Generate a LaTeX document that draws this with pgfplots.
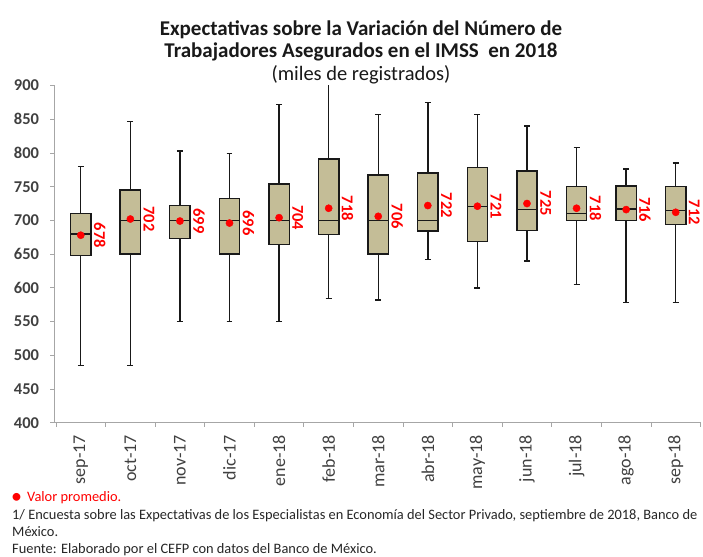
\documentclass[border=0pt]{standalone}
\usepackage{fontspec}
\setmainfont{Carlito}
\usepackage{pgfplots}
\pgfplotsset{compat=1.18}
\usepgfplotslibrary{statistics}
\definecolor{boxfill}{HTML}{C4BD97}
\definecolor{axgray}{HTML}{A6A6A6}
\definecolor{lblgray}{HTML}{404040}
\definecolor{meanred}{HTML}{FF0000}
\begin{document}
\begin{tikzpicture}
\path[use as bounding box] (-54.5bp,-134.3bp) rectangle (648.5bp,422.7bp);
\begin{axis}[
  at={(0,0)}, anchor=south west,
  scale only axis, width=646bp, height=337.2bp,
  xmin=-0.53, xmax=12.5, ymin=400, ymax=900,
  axis x line*=bottom, axis y line*=left,
  axis line style={-, draw=axgray, line width=1pt},
  tick align=outside,
  major tick length=4bp, minor tick length=4bp,
  tick style={draw=axgray, line width=0.8pt},
  every major x tick/.append style={draw=none},
  xtick={0,...,12},
  xticklabels={sep-17,oct-17,nov-17,dic-17,ene-18,feb-18,mar-18,abr-18,may-18,jun-18,jul-18,ago-18,sep-18},
  minor xtick={-0.5,0.5,...,12.5},
  ytick={400,450,...,900},
  /pgf/number format/assume math mode=true,
  yticklabel style={font=\fontsize{16.5bp}{16.5bp}\selectfont\bfseries, text=lblgray, xshift=-8bp},
  xticklabel style={rotate=90, anchor=east, font=\fontsize{18bp}{18bp}\selectfont, text=lblgray, xshift=-5bp},
  boxplot/draw direction=y,
  boxplot/box extend=0.41,
  boxplot/whisker extend=0.12,
  bx/.style={draw=black!90, fill=boxfill, line width=1.4pt, solid},
]
\addplot[bx, boxplot prepared={draw position=0, lower whisker=485, lower quartile=648, median=680, upper quartile=710, upper whisker=780}] coordinates {};
\addplot[bx, boxplot prepared={draw position=1, lower whisker=485, lower quartile=650, median=700, upper quartile=745, upper whisker=847}] coordinates {};
\addplot[bx, boxplot prepared={draw position=2, lower whisker=550, lower quartile=673, median=700, upper quartile=722, upper whisker=803}] coordinates {};
\addplot[bx, boxplot prepared={draw position=3, lower whisker=550, lower quartile=650, median=700, upper quartile=732, upper whisker=799}] coordinates {};
\addplot[bx, boxplot prepared={draw position=4, lower whisker=550, lower quartile=664, median=700, upper quartile=754, upper whisker=872}] coordinates {};
\addplot[bx, boxplot prepared={draw position=5, lower whisker=584, lower quartile=679, median=700, upper quartile=791, upper whisker=905}] coordinates {};
\addplot[bx, boxplot prepared={draw position=6, lower whisker=582, lower quartile=650, median=700, upper quartile=767, upper whisker=857}] coordinates {};
\addplot[bx, boxplot prepared={draw position=7, lower whisker=642, lower quartile=684, median=700, upper quartile=770, upper whisker=875}] coordinates {};
\addplot[bx, boxplot prepared={draw position=8, lower whisker=600, lower quartile=669, median=721, upper quartile=778, upper whisker=857}] coordinates {};
\addplot[bx, boxplot prepared={draw position=9, lower whisker=640, lower quartile=685, median=716, upper quartile=773, upper whisker=840}] coordinates {};
\addplot[bx, boxplot prepared={draw position=10, lower whisker=605, lower quartile=700, median=710, upper quartile=750, upper whisker=808}] coordinates {};
\addplot[bx, boxplot prepared={draw position=11, lower whisker=578, lower quartile=700, median=717, upper quartile=751, upper whisker=776}] coordinates {};
\addplot[bx, boxplot prepared={draw position=12, lower whisker=578, lower quartile=694, median=715, upper quartile=750, upper whisker=785}] coordinates {};
\addplot[only marks, mark=*, mark size=3.6bp, mark options={draw=meanred, fill=meanred},
  nodes near coords, point meta=explicit symbolic,
  nodes near coords style={xshift=13bp, rotate=-90, anchor=south, inner sep=0pt,
    font=\fontsize{16.5bp}{16.5bp}\selectfont\bfseries, text=meanred}]
coordinates {
(0,678) [678]
(1,702) [702]
(2,699) [699]
(3,696) [696]
(4,704) [704]
(5,718) [718]
(6,706) [706]
(7,722) [722]
(8,721) [721]
(9,725) [725]
(10,718) [718]
(11,716) [716]
(12,712) [712]
};
\end{axis}
\node[font=\fontsize{21bp}{22bp}\selectfont\bfseries, text=black!90] at (306.5bp,392.7bp) {Expectativas sobre la Variación del Número de};
\node[font=\fontsize{21bp}{22bp}\selectfont\bfseries, text=black!90] at (306.5bp,370.7bp) {Trabajadores Asegurados en el IMSS\ \ en 2018};
\node[font=\fontsize{20.5bp}{22bp}\selectfont, text=black!90] at (306.5bp,348.2bp) {(miles de registrados)};
\node[anchor=base west, inner sep=0pt, font=\fontsize{14.4bp}{15bp}\selectfont, text=meanred] at (-43.5bp,-79bp) {\textcolor{meanred}{\fontsize{22bp}{22bp}\selectfont\raisebox{-1.5bp}{\textbullet}}\hspace{5bp}Valor promedio.};
\node[anchor=base west, inner sep=0pt, font=\fontsize{14.4bp}{15bp}\selectfont, text=black!85] at (-42.5bp,-96.5bp) {1/ Encuesta sobre las Expectativas de los Especialistas en Economía del Sector Privado, septiembre de 2018, Banco de};
\node[anchor=base west, inner sep=0pt, font=\fontsize{14.4bp}{15bp}\selectfont, text=black!85] at (-42.5bp,-114bp) {México.};
\node[anchor=base west, inner sep=0pt, font=\fontsize{14.4bp}{15bp}\selectfont, text=black!85] at (-42.5bp,-130.5bp) {Fuente: Elaborado por el CEFP con datos del Banco de México.};
\end{tikzpicture}
\end{document}
